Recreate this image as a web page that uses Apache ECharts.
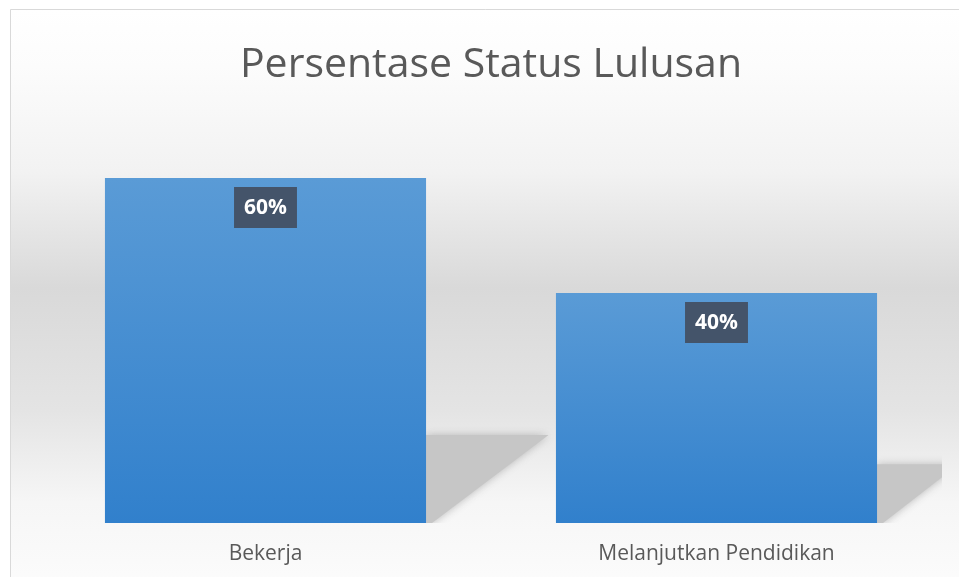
<!DOCTYPE html>
<html>
<head>
<meta charset="utf-8">
<script src="https://cdn.jsdelivr.net/npm/echarts@6/dist/echarts.min.js"></script>
<style>
  html, body { margin: 0; padding: 0; overflow: hidden; background: #fff; }
  #main { width: 959px; height: 577px; }
</style>
</head>
<body>
<div id="main"></div>
<script>
var categories = ['Bekerja', 'Melanjutkan Pendidikan'];
var percentValues = [60, 40];

var chart = echarts.init(document.getElementById('main'));

var barWidthRatio = 0.712;

// perspective shadow behind each bar (drawn from the data through the axes)
function renderShadow(params, api) {
    var idx = api.value(0);
    var val = api.value(1);
    var top = api.coord([idx, val]);
    var base = api.coord([idx, 0]);
    var band = api.size([1, 0])[0];
    var xR = top[0] + band * barWidthRatio / 2;
    var h = base[1] - top[1];
    var sy = base[1] - h * 0.255;
    var ext = h * 0.355;
    return {
        type: 'polygon',
        shape: {
            points: [[xR, sy], [xR + ext, sy], [xR + 6, base[1]], [xR, base[1]]]
        },
        style: {
            fill: '#c6c6c6',
            shadowBlur: 8,
            shadowColor: 'rgba(170,170,170,0.8)'
        }
    };
}

var option = {
    backgroundColor: '#ffffff',
    graphic: [{
        type: 'rect',
        z: -10,
        silent: true,
        shape: { x: 10.5, y: 9.5, width: 960, height: 580 },
        style: {
            stroke: '#d9d9d9',
            lineWidth: 1,
            fill: new echarts.graphic.LinearGradient(0, 0, 0, 1, [
                { offset: 0, color: '#ffffff' },
                { offset: 0.1, color: '#fcfcfc' },
                { offset: 0.28, color: '#f2f2f2' },
                { offset: 0.48, color: '#d9d9d9' },
                { offset: 0.69, color: '#e4e4e4' },
                { offset: 0.85, color: '#f6f6f6' },
                { offset: 1, color: '#fcfcfc' }
            ])
        }
    }],
    title: {
        text: 'Persentase Status Lulusan',
        left: 486,
        top: 40,
        textAlign: 'center',
        textStyle: {
            fontFamily: 'Open Sans',
            fontSize: 41,
            fontWeight: 'normal',
            color: '#595959'
        }
    },
    grid: {
        left: 40,
        right: 17,
        top: 178,
        bottom: 54,
        containLabel: false
    },
    xAxis: {
        type: 'category',
        data: categories,
        axisLine: { show: false },
        axisTick: { show: false },
        axisLabel: {
            margin: 21,
            fontFamily: 'Open Sans',
            fontSize: 21,
            color: '#595959'
        }
    },
    yAxis: {
        type: 'value',
        show: false,
        min: 0,
        max: 60
    },
    series: [
        {
            type: 'custom',
            renderItem: renderShadow,
            clip: true,
            z: 1,
            silent: true,
            data: percentValues.map(function (v, i) { return [i, v]; })
        },
        {
            type: 'bar',
            z: 3,
            barWidth: (barWidthRatio * 100) + '%',
            data: percentValues,
            itemStyle: {
                color: new echarts.graphic.LinearGradient(0, 0, 0, 1, [
                    { offset: 0, color: '#5a9bd6' },
                    { offset: 1, color: '#3180cc' }
                ])
            },
            label: {
                show: true,
                position: 'insideTop',
                distance: 9,
                formatter: '{c}%',
                fontFamily: 'Open Sans',
                fontSize: 21,
                fontWeight: 'bold',
                color: '#ffffff',
                backgroundColor: '#44546a',
                padding: [9, 10, 8, 10],
                lineHeight: 24
            }
        }
    ]
};

chart.setOption(option);
</script>
</body>
</html>
